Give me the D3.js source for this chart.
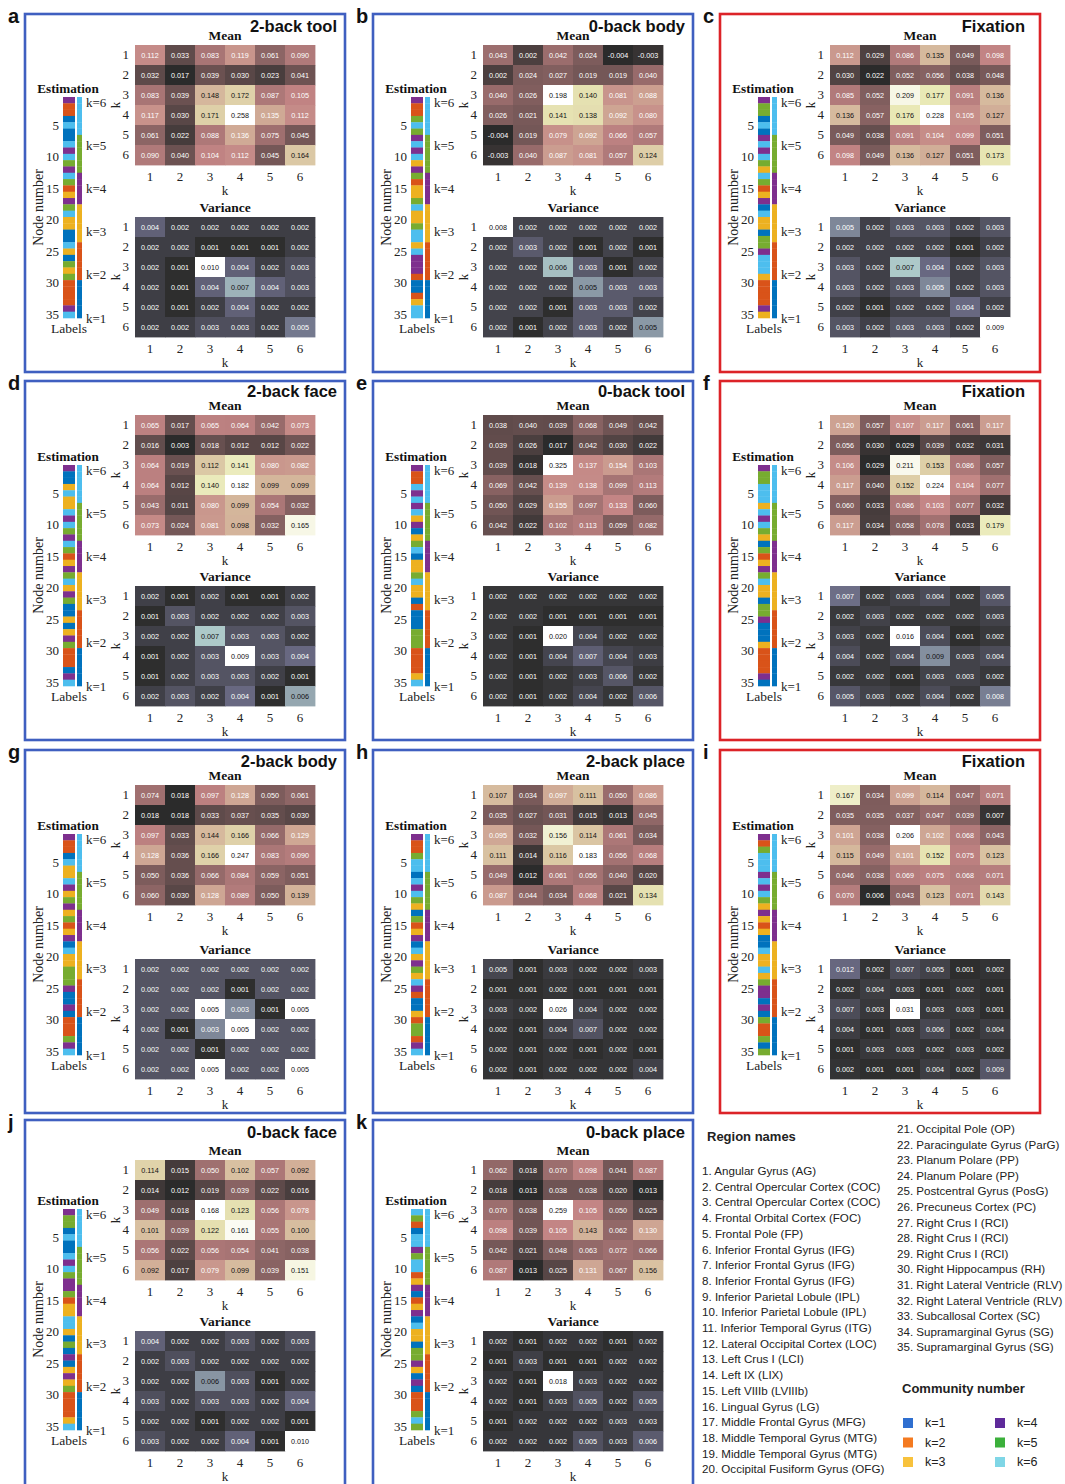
<!DOCTYPE html>
<html>
<head>
<meta charset="utf-8">
<script src="https://cdn.jsdelivr.net/npm/d3@7"></script>
<style>
  body { margin: 0; background: #fff; }
  svg { display: block; }
</style>
</head>
<body>
<svg id="fig" width="1065" height="1484"></svg>
<script>
// ---------- data ----------
const K = [1, 2, 3, 4, 5, 6];
const nodeTicks = [5, 10, 15, 20, 25, 30, 35];
const communityNames = ["k=1", "k=2", "k=3", "k=4", "k=5", "k=6"];
const communityColors = ["#0072BD", "#D95319", "#EDB120", "#7E2F8E", "#77AC30", "#4DBEEE"];
const legendColors = ["#2f6fd0", "#f47a20", "#f8c23c", "#5e2a9a", "#3bb03b", "#7fd6e6"];

const panelLetters = ["a", "b", "c", "d", "e", "f", "g", "h", "i", "j", "k"];
const panelTitles = ["2-back tool", "0-back body", "Fixation", "2-back face", "0-back tool", "Fixation",
                     "2-back body", "2-back place", "Fixation", "0-back face", "0-back place"];
const panelFrames = ["#3f5fc0", "#3f5fc0", "#dc2328", "#3f5fc0", "#3f5fc0", "#dc2328",
                     "#3f5fc0", "#3f5fc0", "#dc2328", "#3f5fc0", "#3f5fc0"];

// ground-truth community of each of the 35 nodes
const labelsK = [6,6,6,6,6,6,5,5,5,5,5,5,4,4,4,4,4,3,3,3,3,3,3,2,2,2,2,2,2,1,1,1,1,1,1];

// a: 2-back tool
const meanA = [[0.112,0.033,0.083,0.119,0.061,0.090],[0.032,0.017,0.039,0.030,0.023,0.041],[0.083,0.039,0.148,0.172,0.087,0.105],[0.117,0.030,0.171,0.258,0.135,0.112],[0.061,0.022,0.088,0.136,0.075,0.045],[0.090,0.040,0.104,0.112,0.045,0.164]];
const varA = [[0.004,0.002,0.002,0.002,0.002,0.002],[0.002,0.002,0.001,0.001,0.001,0.002],[0.002,0.001,0.010,0.004,0.002,0.003],[0.002,0.001,0.004,0.007,0.004,0.003],[0.002,0.001,0.002,0.004,0.002,0.002],[0.002,0.002,0.003,0.003,0.002,0.005]];
const estA = [4,2,2,1,6,1,1,6,4,6,5,4,6,5,2,3,4,5,6,3,3,1,1,6,3,1,5,3,5,2,2,2,2,4,6];

// b: 0-back body
const meanB = [[0.043,0.002,0.042,0.024,-0.004,-0.003],[0.002,0.024,0.027,0.019,0.019,0.040],[0.040,0.026,0.198,0.140,0.081,0.088],[0.026,0.021,0.141,0.138,0.092,0.080],[-0.004,0.019,0.079,0.092,0.066,0.057],[-0.003,0.040,0.087,0.081,0.057,0.124]];
const varB = [[0.008,0.002,0.002,0.002,0.002,0.002],[0.002,0.003,0.002,0.001,0.002,0.001],[0.002,0.002,0.006,0.003,0.001,0.002],[0.002,0.002,0.002,0.005,0.003,0.003],[0.002,0.002,0.001,0.003,0.003,0.002],[0.002,0.001,0.002,0.003,0.002,0.005]];
const estB = [4,2,2,5,6,5,4,6,4,6,3,4,5,2,3,3,5,6,3,3,5,6,6,3,6,4,4,4,2,1,1,2,3,6,6];

// c: fixation
const meanC = [[0.112,0.029,0.086,0.135,0.049,0.098],[0.030,0.022,0.052,0.056,0.038,0.048],[0.085,0.052,0.209,0.177,0.091,0.136],[0.136,0.057,0.176,0.228,0.105,0.127],[0.049,0.038,0.091,0.104,0.099,0.051],[0.098,0.049,0.136,0.127,0.051,0.173]];
const varC = [[0.005,0.002,0.003,0.003,0.002,0.003],[0.002,0.002,0.002,0.002,0.001,0.002],[0.003,0.002,0.007,0.004,0.002,0.003],[0.003,0.002,0.003,0.005,0.002,0.003],[0.002,0.001,0.002,0.002,0.004,0.002],[0.003,0.002,0.003,0.003,0.002,0.009]];
const estC = [4,5,5,1,6,1,4,6,4,6,5,3,6,5,2,3,4,1,6,3,3,1,5,5,4,6,6,6,3,2,2,2,2,4,3];

// d: 2-back face
const meanD = [[0.065,0.017,0.065,0.064,0.042,0.073],[0.016,0.003,0.018,0.012,0.012,0.022],[0.064,0.019,0.112,0.141,0.080,0.082],[0.064,0.012,0.140,0.182,0.099,0.099],[0.043,0.011,0.080,0.099,0.054,0.032],[0.073,0.024,0.081,0.098,0.032,0.165]];
const varD = [[0.002,0.001,0.002,0.001,0.001,0.002],[0.001,0.003,0.002,0.002,0.002,0.003],[0.002,0.002,0.007,0.003,0.003,0.002],[0.001,0.002,0.003,0.009,0.003,0.004],[0.001,0.002,0.003,0.003,0.002,0.001],[0.002,0.003,0.002,0.004,0.001,0.006]];
const estD = [4,1,1,3,6,3,3,6,4,6,5,4,6,5,2,3,4,5,6,3,4,5,1,1,3,1,3,4,5,2,2,2,1,4,6];

// e: 0-back tool
const meanE = [[0.038,0.040,0.039,0.068,0.049,0.042],[0.039,0.026,0.017,0.042,0.030,0.022],[0.039,0.018,0.325,0.137,0.154,0.103],[0.069,0.042,0.139,0.138,0.099,0.113],[0.050,0.029,0.155,0.097,0.133,0.060],[0.042,0.022,0.102,0.113,0.059,0.082]];
const varE = [[0.002,0.002,0.002,0.002,0.002,0.002],[0.002,0.002,0.001,0.001,0.001,0.001],[0.002,0.001,0.020,0.004,0.002,0.002],[0.002,0.001,0.004,0.007,0.004,0.003],[0.002,0.001,0.002,0.003,0.006,0.002],[0.002,0.001,0.002,0.004,0.002,0.006]];
const estE = [4,2,2,6,4,6,4,6,3,4,1,3,5,6,1,3,3,5,6,3,3,1,2,1,1,1,5,5,5,2,2,2,2,3,6];

// f: fixation
const meanF = [[0.120,0.057,0.107,0.117,0.061,0.117],[0.056,0.030,0.029,0.039,0.032,0.031],[0.106,0.029,0.211,0.153,0.086,0.057],[0.117,0.040,0.152,0.224,0.104,0.077],[0.060,0.033,0.086,0.103,0.077,0.032],[0.117,0.034,0.058,0.078,0.033,0.179]];
const varF = [[0.007,0.002,0.003,0.004,0.002,0.005],[0.002,0.003,0.002,0.002,0.002,0.003],[0.003,0.002,0.016,0.004,0.001,0.002],[0.004,0.002,0.004,0.009,0.003,0.004],[0.002,0.002,0.001,0.003,0.003,0.002],[0.005,0.003,0.002,0.004,0.002,0.008]];
const estF = [4,5,5,6,6,6,3,6,4,6,5,3,1,5,2,3,4,5,6,3,3,1,5,5,4,1,1,1,3,2,2,2,2,4,1];

// g: 2-back body
const meanG = [[0.074,0.018,0.097,0.128,0.050,0.061],[0.018,0.018,0.033,0.037,0.035,0.030],[0.097,0.033,0.144,0.166,0.066,0.129],[0.128,0.036,0.166,0.247,0.083,0.090],[0.050,0.036,0.066,0.084,0.059,0.051],[0.060,0.030,0.128,0.089,0.050,0.139]];
const varG = [[0.002,0.002,0.002,0.002,0.002,0.002],[0.002,0.002,0.002,0.001,0.002,0.002],[0.002,0.002,0.005,0.003,0.001,0.005],[0.002,0.001,0.003,0.005,0.002,0.002],[0.002,0.002,0.001,0.002,0.002,0.002],[0.002,0.002,0.005,0.002,0.002,0.005]];
const estG = [4,2,2,1,6,3,3,6,4,3,5,4,3,5,2,3,4,1,6,3,3,5,5,5,4,1,1,4,1,2,2,2,5,4,6];

// h: 2-back place
const meanH = [[0.107,0.034,0.097,0.111,0.050,0.086],[0.035,0.027,0.031,0.015,0.013,0.045],[0.095,0.032,0.156,0.114,0.061,0.034],[0.111,0.014,0.116,0.183,0.056,0.068],[0.049,0.012,0.061,0.056,0.040,0.020],[0.087,0.044,0.034,0.068,0.021,0.134]];
const varH = [[0.005,0.001,0.003,0.002,0.002,0.003],[0.001,0.001,0.002,0.001,0.001,0.001],[0.003,0.002,0.026,0.004,0.002,0.002],[0.002,0.001,0.004,0.007,0.002,0.002],[0.002,0.001,0.002,0.001,0.002,0.001],[0.002,0.001,0.002,0.002,0.002,0.004]];
const estH = [4,2,2,5,6,6,1,6,4,6,5,3,1,5,2,3,4,1,6,3,4,5,3,6,4,2,1,1,3,2,5,5,2,4,6];

// i: fixation
const meanI = [[0.167,0.034,0.099,0.114,0.047,0.071],[0.035,0.035,0.037,0.047,0.039,0.007],[0.101,0.038,0.206,0.102,0.068,0.043],[0.115,0.049,0.101,0.152,0.075,0.123],[0.046,0.038,0.069,0.075,0.068,0.071],[0.070,0.006,0.043,0.123,0.071,0.143]];
const varI = [[0.012,0.002,0.007,0.005,0.001,0.002],[0.002,0.004,0.003,0.001,0.002,0.001],[0.007,0.003,0.031,0.003,0.003,0.001],[0.004,0.001,0.003,0.006,0.002,0.004],[0.001,0.003,0.003,0.002,0.003,0.002],[0.002,0.001,0.001,0.004,0.002,0.009]];
const estI = [4,2,5,6,6,6,4,6,4,6,5,3,4,3,2,3,1,1,6,3,3,6,3,5,4,4,1,4,1,5,2,2,5,1,5];

// j: 0-back face
const meanJ = [[0.114,0.015,0.050,0.102,0.057,0.092],[0.014,0.012,0.019,0.039,0.022,0.016],[0.049,0.018,0.168,0.123,0.056,0.078],[0.101,0.039,0.122,0.161,0.055,0.100],[0.056,0.022,0.056,0.054,0.041,0.038],[0.092,0.017,0.079,0.099,0.039,0.151]];
const varJ = [[0.004,0.002,0.002,0.003,0.002,0.003],[0.002,0.003,0.002,0.002,0.002,0.002],[0.002,0.002,0.006,0.003,0.001,0.002],[0.003,0.002,0.003,0.003,0.002,0.004],[0.002,0.002,0.001,0.002,0.002,0.001],[0.003,0.002,0.002,0.004,0.001,0.010]];
const estJ = [4,5,5,1,6,1,1,6,4,6,5,4,4,5,2,3,3,6,6,3,1,5,1,4,1,3,4,3,5,2,2,2,2,3,6];

// k: 0-back place
const meanK = [[0.062,0.018,0.070,0.098,0.041,0.087],[0.018,0.013,0.038,0.038,0.020,0.013],[0.070,0.038,0.259,0.105,0.050,0.025],[0.098,0.039,0.105,0.143,0.062,0.130],[0.042,0.021,0.048,0.063,0.072,0.066],[0.087,0.013,0.025,0.131,0.067,0.156]];
const varK = [[0.002,0.001,0.002,0.002,0.001,0.002],[0.001,0.003,0.001,0.001,0.002,0.002],[0.002,0.001,0.018,0.003,0.002,0.002],[0.002,0.001,0.003,0.005,0.002,0.005],[0.001,0.002,0.002,0.002,0.003,0.003],[0.002,0.002,0.002,0.005,0.003,0.006]];
const estK = [6,5,2,1,6,6,4,5,6,6,2,3,4,1,2,3,4,1,6,3,3,1,5,5,4,3,1,4,1,2,2,2,5,6,5];

const meanMatrices = [meanA, meanB, meanC, meanD, meanE, meanF, meanG, meanH, meanI, meanJ, meanK];
const varMatrices = [varA, varB, varC, varD, varE, varF, varG, varH, varI, varJ, varK];
const estimates = [estA, estB, estC, estD, estE, estF, estG, estH, estI, estJ, estK];

const regionNames = [
  "Angular Gyrus (AG)", "Central Opercular Cortex (COC)", "Central Opercular Cortex (COC)",
  "Frontal Orbital Cortex (FOC)", "Frontal Pole (FP)", "Inferior Frontal Gyrus (IFG)",
  "Inferior Frontal Gyrus (IFG)", "Inferior Frontal Gyrus (IFG)", "Inferior Parietal Lobule (IPL)",
  "Inferior Parietal Lobule (IPL)", "Inferior Temporal Gyrus (ITG)", "Lateral Occipital Cortex (LOC)",
  "Left Crus I (LCI)", "Left IX (LIX)", "Left VIIIb (LVIIIb)", "Lingual Gyrus (LG)",
  "Middle Frontal Gyrus (MFG)", "Middle Temporal Gyrus (MTG)", "Middle Temporal Gyrus (MTG)",
  "Occipital Fusiform Gyrus (OFG)", "Occipital Pole (OP)", "Paracingulate Gyrus (ParG)",
  "Planum Polare (PP)", "Planum Polare (PP)", "Postcentral Gyrus (PosG)", "Precuneus Cortex (PC)",
  "Right Crus I (RCI)", "Right Crus I (RCI)", "Right Crus I (RCI)", "Right Hippocampus (RH)",
  "Right Lateral Ventricle (RLV)", "Right Lateral Ventricle (RLV)", "Subcallosal Cortex (SC)",
  "Supramarginal Gyrus (SG)", "Supramarginal Gyrus (SG)"
];

// ---------- colour maps (pink for means, bone for variances) ----------
const clamp01 = v => Math.max(0, Math.min(1, v));
function hot(t) {
  return [clamp01(t / 0.375), clamp01((t - 0.375) / 0.375), clamp01((t - 0.75) / 0.25)];
}
// raise the dark end a little so the lowest cells read as dark grey
function lift(c, amount, power) {
  return c + amount * Math.pow(1 - c, power);
}
function toRgb(c) {
  return d3.rgb(c[0] * 255, c[1] * 255, c[2] * 255).formatHex();
}
function pinkMap(t) {
  const h = hot(t);
  return toRgb(h.map(c => lift(Math.sqrt((2 * t + c) / 3), 0.17, 3)));
}
function boneMap(t) {
  const h = hot(t);
  const c = [(7 * t + h[2]) / 8, (7 * t + h[1]) / 8, (7 * t + h[0]) / 8];
  return toRgb(c.map(v => lift(v, 0.18, 2)));
}

// ---------- layout ----------
const SERIF = "'Liberation Serif', 'Times New Roman', serif";
const SANS = "'Liberation Sans', Arial, Helvetica, sans-serif";
const colX = [25, 373, 720];
const rowY = [14, 381, 750, 1120];
const rowH = [358, 359, 363, 380];
const meanTop = [31, 34, 35, 40];
const varTop = [203, 205, 209, 211];
const estTop = [83, 84, 84, 89];
const titleBase = [18, 16, 17, 18];
const PW = 320, HX = 110, HW = 180, HH = 120, EST_X = 38, EST_W = 12, LAB_X = 52, LAB_W = 5, EST_H = 221;

const svg = d3.select("#fig");
svg.append("rect").attr("width", 1065).attr("height", 1484).attr("fill", "#fff");

function drawHeatmap(g, values, top, label, cmap) {
  const flat = values.flat();
  const norm = d3.scaleLinear().domain(d3.extent(flat)).range([0, 1]);
  const x = d3.scaleBand().domain(K).range([HX, HX + HW]);
  const y = d3.scaleBand().domain(K).range([top, top + HH]);
  const cells = values.flatMap((row, i) => row.map((v, j) => ({ row: K[i], col: K[j], v })));

  g.append("g").selectAll("rect").data(cells).join("rect")
    .attr("x", d => x(d.col)).attr("y", d => y(d.row))
    .attr("width", x.bandwidth() + 0.4).attr("height", y.bandwidth() + 0.4)
    .attr("fill", d => cmap(norm(d.v)));

  g.append("g").selectAll("text").data(cells).join("text")
    .attr("x", d => x(d.col) + x.bandwidth() / 2)
    .attr("y", d => y(d.row) + y.bandwidth() / 2)
    .attr("text-anchor", "middle").attr("dominant-baseline", "central")
    .attr("font-family", SANS).attr("font-size", 7.2)
    .attr("fill", d => norm(d.v) > 0.5 ? "#111" : "#fff")
    .text(d => d.v.toFixed(3));

  const left = g.append("g").attr("transform", `translate(${HX},0)`)
    .call(d3.axisLeft(y).tickSize(0).tickPadding(6));
  const bottom = g.append("g").attr("transform", `translate(0,${top + HH})`)
    .call(d3.axisBottom(x).tickSize(0).tickPadding(7));
  [left, bottom].forEach(a => {
    a.select(".domain").remove();
    a.selectAll("text").attr("font-family", SERIF).attr("font-size", 13).attr("fill", "#222");
  });

  g.append("text").attr("x", HX + HW / 2).attr("y", top - 5)
    .attr("text-anchor", "middle").attr("font-family", SERIF).attr("font-weight", "bold")
    .attr("font-size", 13.5).attr("fill", "#111").text(label);
  g.append("text").attr("x", HX + HW / 2).attr("y", top + HH + 30)
    .attr("text-anchor", "middle").attr("font-family", SERIF).attr("font-size", 13)
    .attr("fill", "#222").text("k");
  g.append("text").attr("transform", `translate(${HX - 20},${top + HH / 2}) rotate(-90)`)
    .attr("text-anchor", "middle").attr("dominant-baseline", "central")
    .attr("font-family", SERIF).attr("font-size", 13).attr("fill", "#222").text("k");
}

function drawColumns(g, est, top) {
  const nodes = d3.range(1, 36);
  const y = d3.scaleBand().domain(nodes).range([top, top + EST_H]);
  g.append("g").selectAll("rect").data(nodes).join("rect")
    .attr("x", EST_X).attr("width", EST_W)
    .attr("y", d => y(d)).attr("height", y.bandwidth() + 0.3)
    .attr("fill", d => communityColors[est[d - 1] - 1]);
  g.append("g").selectAll("rect").data(nodes).join("rect")
    .attr("x", LAB_X).attr("width", LAB_W)
    .attr("y", d => y(d)).attr("height", y.bandwidth() + 0.3)
    .attr("fill", d => communityColors[labelsK[d - 1] - 1]);

  const ax = g.append("g").attr("transform", `translate(${EST_X},0)`)
    .call(d3.axisLeft(y).tickValues(nodeTicks).tickSize(0).tickPadding(4));
  ax.select(".domain").remove();
  ax.selectAll("text").attr("font-family", SERIF).attr("font-size", 13).attr("fill", "#222");

  g.append("text").attr("transform", `translate(13,${top + EST_H / 2}) rotate(-90)`)
    .attr("text-anchor", "middle").attr("dominant-baseline", "central")
    .attr("font-family", SERIF).attr("font-size", 14).attr("fill", "#222").text("Node number");
  g.append("text").attr("x", EST_X + 5).attr("y", top - 4)
    .attr("text-anchor", "middle").attr("font-family", SERIF).attr("font-weight", "bold")
    .attr("font-size", 13.2).attr("fill", "#111").text("Estimation");
  g.append("text").attr("x", EST_X + 6).attr("y", top + EST_H + 15)
    .attr("text-anchor", "middle").attr("font-family", SERIF)
    .attr("font-size", 13.5).attr("fill", "#222").text("Labels");

  const kPos = d3.scalePoint().domain(communityNames.slice().reverse()).range([top + 5, top + EST_H]);
  g.append("g").selectAll("text").data(communityNames).join("text")
    .attr("x", LAB_X + 9).attr("y", d => kPos(d))
    .attr("dominant-baseline", "central")
    .attr("font-family", SERIF).attr("font-size", 13).attr("fill", "#222").text(d => d);
}

panelLetters.forEach((letter, i) => {
  const r = Math.floor(i / 3), c = i % 3;
  const g = svg.append("g").attr("transform", `translate(${colX[c]},${rowY[r]})`);
  const frame = panelFrames[i];
  g.append("rect").attr("x", 0).attr("y", 0).attr("width", PW).attr("height", rowH[r])
    .attr("fill", "none").attr("stroke", frame).attr("stroke-width", 2.6);
  const inset = panelTitles[i] === "Fixation" ? 15 : 8;
  g.append("text").attr("x", PW - inset).attr("y", titleBase[r])
    .attr("text-anchor", "end").attr("font-family", SANS).attr("font-weight", "bold")
    .attr("font-size", 16.5).attr("fill", "#111").text(panelTitles[i]);

  drawHeatmap(g, meanMatrices[i], meanTop[r], "Mean", pinkMap);
  drawHeatmap(g, varMatrices[i], varTop[r], "Variance", boneMap);
  drawColumns(g, estimates[i], estTop[r]);

  svg.append("text").attr("x", colX[c] - 17).attr("y", rowY[r] + 9)
    .attr("font-family", SANS).attr("font-weight", "bold").attr("font-size", 20)
    .attr("fill", "#111").text(letter);
});

// ---------- region names and community legend ----------
const legend = svg.append("g");
legend.append("text").attr("x", 707).attr("y", 1141)
  .attr("font-family", SANS).attr("font-weight", "bold").attr("font-size", 13)
  .attr("fill", "#222").text("Region names");

const regionRows = regionNames.map((name, i) => ({ n: i + 1, name }));
legend.append("g").selectAll("text").data(regionRows).join("text")
  .attr("x", d => d.n <= 20 ? 702 : 897)
  .attr("y", d => d.n <= 20 ? 1175 + (d.n - 1) * 15.7 : 1133 + (d.n - 21) * 15.6)
  .attr("font-family", SANS).attr("font-size", 11.6).attr("fill", "#222")
  .text(d => `${d.n}. ${d.name}`);

legend.append("text").attr("x", 902).attr("y", 1393)
  .attr("font-family", SANS).attr("font-weight", "bold").attr("font-size", 13)
  .attr("fill", "#222").text("Community number");

const legendRows = communityNames.map((name, i) => ({ name, i }));
const lg = legend.append("g").selectAll("g").data(legendRows).join("g")
  .attr("transform", d => `translate(${d.i < 3 ? 903 : 995},${1423 + (d.i % 3) * 19.5})`);
lg.append("rect").attr("x", 0).attr("y", -5).attr("width", 10).attr("height", 10)
  .attr("fill", d => legendColors[d.i]);
lg.append("text").attr("x", 22).attr("y", 0).attr("dominant-baseline", "central")
  .attr("font-family", SANS).attr("font-size", 12.5).attr("fill", "#222").text(d => d.name);
</script>
</body>
</html>
